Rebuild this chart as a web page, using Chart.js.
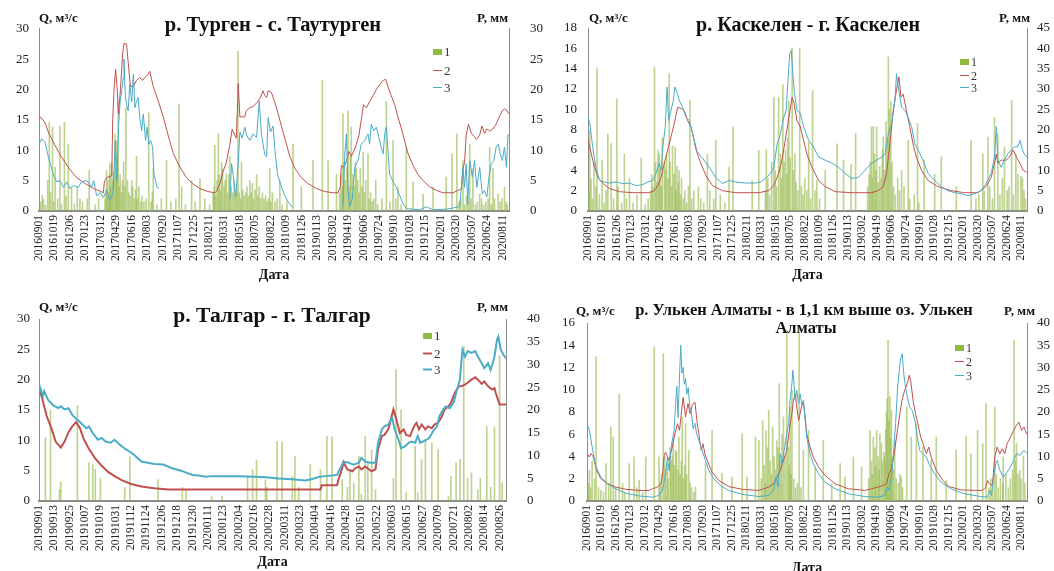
<!DOCTYPE html>
<html><head><meta charset="utf-8">
<script src="https://cdn.jsdelivr.net/npm/chart.js@4.4.1/dist/chart.umd.min.js"></script>
<style>
html,body{margin:0;padding:0;background:#fff;overflow:hidden}
#wrap{position:relative;width:1054px;height:571px;overflow:hidden;background:#fff}
canvas{position:absolute}
</style></head><body><div id="wrap">
<canvas id="c1" width="560" height="290" style="left:0px;top:0px"></canvas>
<canvas id="c2" width="514" height="290" style="left:540px;top:0px"></canvas>
<canvas id="c3" width="560" height="281" style="left:0px;top:290px"></canvas>
<canvas id="c4" width="514" height="290" style="left:540px;top:290px"></canvas>
</div>
<script>
// ---------- tick labels ----------
const longTicks = ['20160901','20161019','20161206','20170123','20170312','20170429','20170616','20170803','20170920','20171107','20171225','20180211','20180331','20180518','20180705','20180822','20181009','20181126','20190113','20190302','20190419','20190606','20190724','20190910','20191028','20191215','20200201','20200320','20200507','20200624','20200811'];
const talgarTicks = ['20190901','20190913','20190925','20191007','20191019','20191031','20191112','20191124','20191206','20191218','20191230','20200111','20200123','20200204','20200216','20200228','20200311','20200323','20200404','20200416','20200428','20200510','20200522','20200603','20200615','20200627','20200709','20200721','20200802','20200814','20200826'];

const titles = ['р. Турген - с. Таутурген','р. Каскелен - г. Каскелен','р. Талгар - г. Талгар','р. Улькен Алматы - в 1,1 км выше оз. Улькен','Алматы'];
const unitLabels = ['Q, м³/с','P, мм'];
const legendLabels = ['1','2','3'];
const xTitle = 'Дата';

// ---------- data: [day since first tick, value] ----------
// Турген (Q red = 2, Q cyan = 3, P bars = 1)
const turgenQ2 = [[0,15.5],[8,15.3],[19,14.5],[29,13],[48,11],[65,9.3],[81,8],[96,6.8],[117,5.5],[144,4.5],[169,3.7],[192,3.2],[200,3.0],[203,4.8],[210,5.5],[226,5.8],[229,15],[233,20],[238,23.3],[243,20],[247,16],[253,20],[260,26],[264,27.6],[272,27.5],[277,24.5],[284,20.5],[293,20.5],[303,21.5],[313,22],[322,21.5],[329,22],[339,22.5],[344,23],[355,20.5],[370,18.2],[386,15.5],[401,12.5],[417,9.5],[438,7.2],[458,5.5],[479,4.4],[500,3.7],[525,3.2],[546,3.0],[551,3.2],[562,4.5],[572,6.5],[582,8],[593,11],[600,13.5],[608,12.5],[613,12],[619,21],[624,15.5],[639,15.5],[644,16.5],[655,17],[665,17.2],[676,17.8],[686,18.5],[696,19.8],[701,19],[707,18.7],[712,19.8],[722,19.5],[732,18],[743,16],[753,14],[766,11.5],[779,9],[795,7],[815,5.5],[836,4.5],[862,3.7],[888,3.2],[913,3.0],[929,3.0],[936,4.0],[939,7.5],[947,7.2],[955,8.2],[963,9.8],[970,9.0],[979,10],[986,11],[994,12.5],[1001,15],[1008,17.5],[1017,17],[1027,18],[1038,19],[1048,20],[1058,20.8],[1069,21.5],[1077,21.7],[1084,20.5],[1094,19],[1105,17.5],[1115,15.5],[1126,13.5],[1136,11.5],[1146,9.5],[1162,7.5],[1177,6],[1193,5],[1213,4],[1234,3.4],[1255,3.0],[1286,3.0],[1301,3.4],[1312,3.6],[1317,7],[1322,8],[1327,12.5],[1334,14.3],[1343,12.8],[1353,12.2],[1359,11.8],[1369,12.5],[1376,14],[1384,12.8],[1391,13.5],[1400,13.2],[1410,13.5],[1420,14.3],[1430,15.5],[1439,16.5],[1446,16.8],[1453,16.6],[1459,16]];
const turgenQ3 = [[0,11],[8,11.9],[19,11.3],[29,8.9],[39,7],[44,6.1],[55,4.8],[65,5],[76,3.9],[86,4.8],[96,3.7],[107,4.2],[122,3.9],[132,4.8],[143,5],[153,4.8],[163,3.9],[170,5],[179,2.5],[190,3],[200,2.2],[210,3.4],[220,1.7],[230,3],[237,11.6],[242,5],[247,13.8],[252,18],[257,19.8],[262,22],[264,25],[268,19],[272,17.6],[277,16.5],[282,20.9],[288,18],[293,22.5],[298,17],[303,18.1],[308,18.7],[313,15.4],[319,13.2],[324,16],[331,11.6],[336,13.8],[341,11],[347,11.6],[353,10.5],[357,6.1],[362,5],[367,3.9],[373,3.7],[376,null],
[593,2],[598,7.8],[603,6],[611,2.3],[619,8],[624,13],[631,12],[639,13.8],[645,12.5],[655,11.6],[665,12.7],[676,12.1],[684,18.1],[691,12.7],[696,11],[701,9.4],[707,8.9],[712,15.4],[719,13],[727,14],[733,10],[741,6],[753,4],[763,2.6],[774,1.5],[784,0.8],[789,0.5],[792,null],
[944,0.7],[950,9.4],[955,12.7],[960,3.4],[965,0.7],[973,2],[981,7.2],[991,8.3],[1001,11],[1012,11.6],[1022,12.7],[1027,11],[1032,14.3],[1040,13.2],[1048,13.8],[1056,12.1],[1063,10.5],[1069,9.4],[1074,12.7],[1079,13.8],[1082,11.6],[1089,6.1],[1100,4.8],[1110,3.9],[1120,2.6],[1131,1.2],[1141,0.4],[1182,0.2],[1203,0.7],[1224,0.2],[1265,0.3],[1307,0.7],[1317,7.2],[1322,3.9],[1327,7.8],[1332,1.2],[1338,8.3],[1346,5.6],[1353,8.3],[1360,3.9],[1369,7.2],[1377,2.8],[1384,3.4],[1391,2.3],[1398,5.6],[1405,7.8],[1413,8.3],[1420,10.5],[1427,11],[1433,9.4],[1439,8.3],[1446,10.5],[1452,7.2],[1457,12.7]];
const turgenP = [[10,2.6],[27,5],[32,14.6],[42,13.8],[50,7.2],[65,14],[79,14.6],[91,11],[101,3.9],[119,4],[127,2],[156,6.7],[210,6.7],[220,7.8],[236,12.7],[241,11.6],[246,18],[270,17],[288,5],[303,9],[341,16.2],[355,7],[396,8.3],[435,17.6],[443,4],[474,5],[500,5.3],[546,10.8],[557,12.7],[567,8],[582,6.1],[593,9],[618,26.3],[629,8],[655,5],[676,6],[717,7],[748,5],[789,11],[815,4],[851,8.3],[880,21.5],[898,8.3],[924,6],[944,16],[960,16.5],[970,13.8],[986,7],[1007,9.7],[1022,9.4],[1046,5],[1079,18],[1100,11.6],[1115,4],[1141,10.5],[1162,4.8],[1193,2.8],[1224,4],[1265,5.6],[1283,9.4],[1298,12.7],[1317,8.3],[1338,11],[1348,7],[1369,2.8],[1400,10.5],[1410,7],[1426,2.8],[1446,3.9],
[5,1.5],[14,2],[20,1],[36,3],[45,1.5],[58,2],[70,1],[84,2.5],[110,1.2],[135,1.5],[150,2],[175,1],[185,2],
[205,2],[208,3.5],[213,5],[216,3],[219,6],[223,4],[226,8],[229,5],[232,6.5],[239,9],[244,7],[249,4],[252,6],[256,3],[259,5],[263,8],[266,4],[275,5],[279,3],[283,2.5],[291,4],[296,2],[300,3.5],[306,2],[310,4],[316,1.5],[320,2.5],[326,1.5],[333,2],[348,1.5],[352,3],
[366,1],[380,2],[410,1.5],[425,2],[455,1],[485,1.5],[515,2],[530,1],
[541,3],[544,4],[549,2.5],[553,5],[560,6],[563,3.5],[570,7],[575,4],[578,5],[586,3],[590,6],[597,4],[602,3],[606,5],[610,2.5],[614,4],[622,3],[626,2],[633,3.5],[637,2.5],[642,3],[646,4],[650,2.5],[659,3],[663,4.5],[667,2],[671,3.5],[680,2.5],[684,4],[689,2],[694,3],[699,2],[704,2.5],[709,1.5],[713,2],[720,1.5],[725,3],[733,1.5],[740,2],[755,1],[770,1.5],
[934,3],[938,6],[942,4],[947,8],[951,5],[956,7],[964,4],[967,9],[975,6],[979,4],[983,8],[990,5],[994,3],[998,7],[1003,4],[1011,3],[1015,5],[1026,2],[1030,3],[1035,1.5],[1040,2],[1052,1],[1065,2],[1090,1.5],[1108,2],[1125,1],
[1305,1.5],[1310,2],[1322,1],[1328,2.5],[1333,1.5],[1343,2],[1356,1],[1362,1.5],[1375,2],[1381,1],[1388,1.5],[1395,2],[1405,1],[1415,2],[1432,1.5],[1438,2],[1451,1.5],[1455,1]];

// Каскелен
const kaskelenQ2 = [[0,7.0],[11,5.6],[22,4.3],[33,3.3],[50,2.7],[72,2.2],[105,1.9],[149,1.8],[204,1.8],[221,2.0],[232,2.5],[243,3.3],[254,4.7],[265,6.0],[276,7.3],[287,8.6],[298,10.2],[309,10.1],[320,9.9],[331,8.9],[342,8.3],[353,7.0],[364,5.6],[375,4.7],[392,3.5],[414,2.5],[447,2.0],[491,1.8],[568,1.8],[601,2.0],[618,2.5],[634,3.7],[645,5.0],[656,6.95],[668,9.2],[679,11.2],[685,10.6],[695,8.9],[706,8.3],[717,6.95],[728,5.6],[745,4.3],[767,3.0],[789,2.4],[822,1.9],[877,1.8],[943,1.8],[965,2.0],[982,2.4],[993,3.7],[1004,6.6],[1015,9.9],[1026,11.9],[1034,13.2],[1041,11.2],[1048,11.5],[1059,9.9],[1070,8.3],[1081,6.6],[1092,5.3],[1109,4.0],[1131,3.0],[1164,2.4],[1208,2.0],[1252,1.8],[1297,1.8],[1324,2.4],[1341,3.3],[1352,4.7],[1358,5.6],[1363,4.7],[1374,5.0],[1391,5.0],[1401,5.3],[1414,6.0],[1425,5.3],[1436,4.7],[1448,4.0],[1459,3.8]];
const kaskelenQ3 = [[0,9.2],[6,8.6],[17,6.0],[28,4.0],[39,3.0],[55,2.85],[72,2.75],[94,2.85],[116,2.7],[138,2.75],[160,2.5],[182,2.6],[199,2.85],[215,3.0],[226,3.7],[237,4.7],[243,4.0],[250,6.6],[257,8.3],[263,12.2],[268,8.9],[276,9.9],[284,10.9],[289,12.2],[298,11.5],[303,10.9],[314,10.2],[326,9.2],[337,8.9],[348,7.6],[359,6.0],[370,5.6],[386,5.0],[403,4.3],[425,3.3],[447,2.7],[469,3.0],[491,2.85],[524,2.75],[557,2.75],[574,2.85],[590,3.2],[607,3.7],[618,4.3],[629,6.6],[640,7.6],[651,9.2],[659,9.9],[665,12.9],[671,15.5],[676,15.8],[682,13.2],[687,11.5],[695,9.9],[706,9.6],[717,8.3],[734,6.95],[750,6.3],[767,5.3],[789,5.0],[811,4.7],[833,4.3],[855,3.7],[877,3.2],[899,3.3],[921,4.0],[943,4.7],[960,5.0],[977,5.3],[988,5.6],[999,7.6],[1010,8.6],[1021,10.9],[1026,13.5],[1032,12.2],[1043,10.2],[1054,9.9],[1065,9.2],[1076,8.3],[1087,6.6],[1098,6.0],[1114,5.0],[1131,3.7],[1153,3.0],[1175,2.4],[1197,2.0],[1219,1.8],[1241,1.7],[1263,1.5],[1285,1.7],[1307,2.0],[1324,2.7],[1341,3.7],[1352,5.3],[1358,8.3],[1363,5.0],[1374,4.3],[1385,5.0],[1396,5.6],[1407,6.0],[1418,6.3],[1429,6.3],[1437,6.95],[1445,6.0],[1451,5.6],[1459,5.3]];
const kaskelenP = [[6,19.8],[30,35],[47,12.5],[66,19],[77,16.6],[96,27.6],[121,14],[138,8],[177,13],[221,35.4],[237,14],[254,12],[270,33.8],[290,15.7],[303,10],[339,27.2],[367,6],[397,14],[425,17.4],[469,10.8],[482,20.7],[546,7.5],[568,14.9],[593,15],[618,28],[634,28],[648,31],[668,27],[679,40],[704,40],[734,17],[747,29.7],[761,7.5],[789,10],[828,16.5],[850,12.5],[875,11.5],[890,19],[943,20.7],[949,20.7],[960,20.7],[982,18.2],[999,37.9],[1007,27],[1043,10],[1065,17.4],[1096,21.5],[1118,12.5],[1153,9],[1175,13.3],[1225,6],[1274,17.4],[1313,14],[1330,18.2],[1352,23],[1363,19],[1385,15.7],[1409,27.2],[1423,14],[1440,8.5],
[3,5],[10,8],[15,3],[20,12],[26,6],[38,4],[54,2],[60,5],[85,3],[100,6],[112,2],[128,3],[150,2],[163,4],[190,1.5],[200,3],
[208,5],[212,9],[216,6],[225,12],[229,7],[233,15],[240,10],[244,6],[247,18],[258,10],[261,14],[266,8],[273,12],[278,6],[281,16],[286,9],[293,5],[296,11],[300,7],[307,4],[311,8],[317,3],[322,5],[328,2],[334,6],[345,3],[352,5],[375,3],[385,2],[405,5],[418,3],[440,4],[455,2],
[590,5],[598,8],[604,4],[611,12],[623,10],[627,6],[640,14],[644,8],[652,12],[657,15],[661,9],[664,18],[672,13],[683,10],[688,14],[692,7],[698,5],[710,6],[715,4],[721,8],[728,5],[740,3],[755,5],[770,3],
[930,6],[935,9],[939,12],[946,8],[953,14],[957,10],[965,7],[970,11],[975,8],[979,15],[986,10],[991,22],[995,18],[1002,25],[1011,12],[1016,6],[1022,4],[1030,8],[1036,5],[1051,6],[1070,3],[1085,4],[1100,2],
[1290,3],[1300,4],[1318,5],[1336,6],[1345,3],[1370,4],[1378,8],[1394,5],[1400,6],[1415,4],[1430,9],[1445,8],[1450,5],[1455,3]];

// Талгар (one year, day 0 = 20190901)
const talgarQ2 = [[0,18.4],[2,17.3],[6,14],[10,11.8],[13,9.8],[17,8.8],[20,9.8],[23,11.3],[26,12.3],[29,13],[32,12],[35,10.2],[39,8.6],[44,7],[49,5.8],[54,4.8],[59,4.1],[65,3.4],[72,2.8],[80,2.4],[90,2.1],[101,1.9],[150,1.9],[220,1.9],[221,2.6],[233,2.6],[234,3.5],[237,5.4],[238,6.4],[241,5.2],[245,4.9],[247,5.4],[250,5.7],[252,5.2],[255,5.7],[258,5.2],[260,4.9],[263,5.2],[265,8.5],[268,10.7],[270,10.9],[273,11.8],[275,13.4],[277,15.1],[280,12.9],[282,11.2],[285,11.8],[287,10.9],[290,10.7],[293,12.3],[295,12.9],[297,11.8],[299,12.6],[302,11.8],[304,12.3],[307,12.0],[309,12.6],[312,12.9],[315,14.0],[317,15.1],[320,15.6],[322,16.2],[325,17.8],[328,18.9],[330,18.9],[333,19.2],[335,19.5],[338,20.0],[341,20.4],[343,20.0],[346,19.3],[348,19.7],[351,18.9],[354,18.4],[356,18.6],[357,17.8],[360,15.9],[365,15.9]];
const talgarQ3 = [[0,17.8],[1,18.6],[3,17.3],[4,18.1],[7,16.7],[11,15.8],[15,15.3],[17,15.6],[20,15.1],[23,15.3],[26,14.2],[30,13.4],[34,12.6],[37,12.0],[39,12.3],[42,11.2],[46,10.1],[49,10.4],[52,9.8],[56,9.6],[59,10.1],[63,9.3],[68,8.5],[72,8.0],[76,7.3],[80,6.5],[85,6.3],[90,6.1],[97,6.0],[104,5.4],[111,5.0],[116,4.6],[120,4.3],[125,4.2],[130,4.0],[135,4.1],[146,4.1],[156,4.1],[167,4.0],[177,3.9],[187,3.7],[198,3.6],[208,3.4],[213,3.6],[219,4.0],[224,4.1],[229,4.2],[233,4.3],[235,5.2],[238,6.5],[242,6.3],[246,6.0],[250,6.3],[252,7.1],[255,6.5],[259,6.3],[263,6.3],[265,9.6],[268,11.8],[270,12.3],[273,12.6],[276,13.7],[278,11.8],[281,10.1],[283,8.7],[286,9.0],[289,9.6],[291,9.8],[294,9.6],[296,10.7],[298,9.6],[300,9.8],[303,10.1],[305,10.4],[308,11.5],[311,12.3],[313,14.0],[316,15.1],[318,15.6],[321,15.3],[324,16.2],[326,17.8],[329,20.0],[330,22.7],[331,24.9],[333,23.8],[335,24.7],[338,24.4],[341,24.7],[343,23.8],[346,22.7],[348,21.9],[351,22.7],[353,21.6],[356,23.8],[358,26.6],[359,27.1],[361,24.9],[363,24.1],[365,23.5]];
const talgarP = [[5,13.9],[9,20],[16,2.5],[17,4.2],[30,21],[39,8.4],[42,8],[44,7],[48,5],[67,3],[71,9.7],[93,4.7],[112,3],[115,2.5],[135,1],[143,1],[163,5.5],[167,6.9],[170,9],[177,4.7],[178,3],[186,13.1],[190,13],[198,5.4],[200,9.8],[203,3],[212,8],[220,6.9],[225,14.2],[229,14.1],[237,4.7],[241,3],[243,6.9],[246,4],[250,9.8],[252,1.5],[255,14.2],[257,8.4],[260,11.3],[263,2.5],[277,5],[279,28.9],[283,20],[287,1.8],[294,12],[296,1.8],[299,9.1],[302,13.5],[307,12.7],[312,11.3],[320,1],[322,5.4],[326,8.4],[329,9.1],[332,34],[335,5],[338,6.2],[343,2.5],[345,5],[350,16.4],[353,3],[356,16.3],[360,32],[362,4]];

// Улькен Алматы
const ulkenQ2 = [[0,4.25],[8,3.95],[13,4.25],[19,4.1],[24,3.65],[32,2.75],[46,2.0],[68,1.55],[96,1.25],[129,1.05],[173,0.95],[206,0.95],[217,1.1],[234,1.25],[245,1.55],[250,2.15],[256,4.1],[261,4.4],[272,3.65],[283,4.85],[292,6.05],[300,6.95],[307,6.35],[314,8.15],[319,9.3],[327,7.55],[335,8.75],[342,7.85],[349,8.6],[358,8.9],[366,6.95],[371,6.05],[379,4.55],[385,5.15],[391,4.25],[399,3.65],[415,2.6],[437,1.85],[470,1.3],[515,1.05],[570,0.95],[586,1.1],[603,1.25],[619,1.55],[630,2.15],[641,2.75],[652,3.65],[663,4.55],[674,6.95],[680,7.85],[685,9.05],[691,9.65],[696,8.45],[702,7.25],[707,7.85],[713,8.6],[718,8.9],[724,7.55],[729,6.05],[740,4.85],[751,3.95],[768,3.05],[790,2.3],[823,1.55],[867,1.1],[922,0.95],[944,1.1],[966,1.25],[983,1.4],[994,1.55],[1002,2.45],[1010,2.9],[1021,4.55],[1030,6.35],[1038,7.85],[1045,9.05],[1054,9.95],[1063,10.55],[1069,11.3],[1074,10.85],[1082,9.05],[1090,7.85],[1098,6.95],[1107,5.75],[1115,5.15],[1126,4.25],[1134,4.85],[1142,3.95],[1159,2.75],[1181,1.85],[1201,1.3],[1241,1.0],[1296,0.95],[1312,0.95],[1323,1.25],[1329,1.85],[1335,1.55],[1345,1.4],[1353,3.95],[1361,4.85],[1370,4.25],[1378,4.7],[1386,4.25],[1394,5.15],[1405,5.75],[1416,6.35],[1425,6.8],[1433,7.1],[1442,6.35],[1450,6.65],[1459,6.0]];
const ulkenQ3 = [[0,6.95],[8,6.35],[19,4.55],[30,3.05],[46,2.15],[68,1.55],[96,1.1],[129,0.7],[173,0.45],[217,0.35],[239,0.5],[250,0.95],[259,2.15],[267,3.95],[272,2.75],[281,5.15],[289,6.35],[294,8.75],[298,10.3],[302,7.5],[306,10.5],[311,14.0],[315,11.5],[319,12.0],[323,10.5],[327,11.0],[331,9.6],[336,10.2],[341,8.5],[346,8.0],[352,6.5],[358,7.0],[364,6.0],[371,5.45],[382,4.55],[393,3.65],[404,2.75],[421,2.0],[443,1.4],[470,0.95],[515,0.6],[570,0.4],[603,0.5],[619,0.95],[627,2.15],[634,1.25],[641,4.25],[647,3.35],[656,4.85],[663,6.05],[669,6.95],[674,9.05],[680,10.55],[683,11.75],[686,10.85],[691,9.05],[696,9.95],[702,8.75],[707,9.65],[713,8.6],[718,9.05],[724,7.25],[729,5.75],[740,4.25],[751,3.35],[768,2.45],[790,1.7],[823,1.1],[867,0.65],[922,0.4],[966,0.35],[988,0.5],[997,1.25],[1002,0.95],[1010,2.15],[1016,3.95],[1024,6.95],[1030,9.95],[1035,11.45],[1040,12.65],[1046,13.25],[1051,11.45],[1057,10.25],[1063,9.35],[1071,8.45],[1079,8.15],[1088,7.25],[1096,5.75],[1104,4.55],[1115,4.25],[1126,3.95],[1137,3.2],[1153,2.45],[1175,1.7],[1207,1.1],[1252,0.65],[1307,0.4],[1329,0.35],[1337,0.95],[1342,0.5],[1348,1.85],[1356,3.35],[1361,3.65],[1370,2.75],[1381,2.15],[1394,2.6],[1405,3.05],[1416,3.65],[1425,4.25],[1436,4.1],[1450,4.55],[1459,4.3]];
const ulkenP = [[8,6.9],[30,32.4],[46,2.4],[63,8.4],[79,16.6],[87,14.4],[107,24],[118,3.9],[140,8.4],[156,9.9],[173,4.7],[195,9.9],[223,34.6],[239,9.9],[253,33.1],[267,8.4],[283,9.9],[294,11.4],[305,14.4],[316,18.9],[327,17.4],[338,11.4],[360,3.2],[393,8.4],[415,15.9],[448,6.2],[481,5.4],[515,15.1],[531,5.4],[559,14.4],[570,13.6],[583,18.1],[594,15.9],[603,20.4],[616,16.6],[630,13.6],[638,26.4],[652,18.9],[663,38.4],[674,21.1],[680,24.9],[704,39.1],[718,11.4],[735,15.9],[757,7.6],[784,13.6],[812,3.9],[840,8.4],[856,5.4],[884,9.9],[911,7.6],[939,15.9],[950,14.4],[961,15.9],[972,15.1],[988,9.9],[999,36.1],[1005,23.4],[1010,20.4],[1021,13.6],[1043,5.4],[1061,21.1],[1076,14.4],[1093,17.4],[1115,12.2],[1142,9.2],[1159,14.4],[1192,4.6],[1225,11.4],[1258,14.4],[1274,10.6],[1296,15.9],[1313,12.9],[1324,21.9],[1353,21.1],[1381,9.9],[1417,36.1],[1425,12.9],[1436,6.9],
[4,4],[12,3],[17,9],[25,5],[38,3],[55,2],[72,4],[95,3],[125,2],[165,3],[185,2],
[242,4],[247,6],[258,10],[262,7],[270,5],[276,12],[279,9],[286,14],[290,8],[297,11],[302,7],[309,6],[313,9],[320,5],[324,8],[331,6],[342,4],[347,3],[355,2],
[578,5],[588,8],[592,4],[599,12],[608,9],[612,6],[621,10],[625,7],[634,12],[643,9],[647,15],[657,10],[668,12],[671,8],[677,6],[686,5],[692,3],[698,4],[710,3],
[935,5],[944,9],[947,6],[955,12],[958,8],[966,10],[969,7],[977,13],[980,9],[985,11],[991,16],[994,20],[996,23],[1002,18],[1007,14],[1013,10],[1016,7],[1026,5],[1033,4],[1038,6],[1047,3],
[1333,3],[1340,5],[1346,4],[1358,6],[1365,3],[1372,5],[1380,4],[1390,6],[1398,3],[1405,5],[1412,7],[1421,9],[1430,6],[1440,5],[1448,10],[1453,4]];

// ---------- styles / layout ----------
const FONT = "'Liberation Serif','Times New Roman',serif";
Chart.defaults.font.family = FONT;
Chart.defaults.color = '#222';
const RED = '#c0504d', CYAN = '#4bacc6', BAR = 'rgba(150,184,76,0.62)', LEG_GREEN = '#8dba3f', AXIS = '#8c8c8c';

const panels = [
  {id:'c1', w:560, h:290, top:28, yw:39, y1w:51, bottom:211, xMax:1460, step:48, labels:longTicks,
   qMax:30, qStep:5, pMax:30, pStep:5, lw:1, yPad:10, y1Pad:21, datePad:6,
   q2:turgenQ2, q3:turgenQ3, p:turgenP,
   titles:[{t:0, x:273, y:31, size:20.5}], qx:39, px:508, uy:22, legend:{x:433, y:52, dy:17.5, fs:13}},
  {id:'c2', w:514, h:290, top:28, yw:48, y1w:27, bottom:211, xMax:1460, step:48, labels:longTicks,
   qMax:18, qStep:2, pMax:45, pStep:5, lw:1, yPad:11, y1Pad:10, datePad:6,
   q2:kaskelenQ2, q3:kaskelenQ3, p:kaskelenP,
   titles:[{t:1, x:268, y:31, size:20}], qx:49, px:490, uy:22, legend:{x:420, y:62, dy:12.5, fs:12}},
  {id:'c3', w:560, h:281, top:29, yw:39, y1w:54, bottom:211, xMax:365, step:12, labels:talgarTicks,
   qMax:30, qStep:5, pMax:40, pStep:5, lw:2, yPad:9, y1Pad:21, datePad:0,
   q2:talgarQ2, q3:talgarQ3, p:talgarP,
   titles:[{t:2, x:272, y:32, size:21.5}], qx:39, px:508, uy:21, legend:{x:423, y:46, dy:16.5, fs:13}},
  {id:'c4', w:514, h:290, top:33, yw:47, y1w:27, bottom:211, xMax:1460, step:48, labels:longTicks,
   qMax:16, qStep:2, pMax:40, pStep:5, lw:1, yPad:12, y1Pad:10, datePad:3,
   q2:ulkenQ2, q3:ulkenQ3, p:ulkenP,
   titles:[{t:3, x:264, y:25, size:16.5},{t:4, x:266, y:43, size:16.5}], qx:36, px:495, uy:25, legend:{x:415, y:58, dy:13.3, fs:12}}
];

function pts(arr){ return arr.map(([x, y]) => ({x, y})); }

function makeOverlay(p){
  return {id:'overlay_' + p.id, afterDraw(chart){
    const ctx = chart.ctx; ctx.save();
    ctx.fillStyle = '#111'; ctx.textBaseline = 'alphabetic'; ctx.textAlign = 'center';
    p.titles.forEach(t => { ctx.font = `bold ${t.size}px ${FONT}`; ctx.fillText(titles[t.t], t.x, t.y); });
    ctx.font = `bold 13px ${FONT}`;
    ctx.textAlign = 'left'; ctx.fillText(unitLabels[0], p.qx, p.uy);
    ctx.textAlign = 'right'; ctx.fillText(unitLabels[1], p.px, p.uy);
    const L = p.legend;
    ctx.font = `${L.fs}px ${FONT}`; ctx.textBaseline = 'middle'; ctx.textAlign = 'left';
    ctx.fillStyle = LEG_GREEN; ctx.fillRect(L.x, L.y - 3, 9, 6);
    ctx.fillStyle = '#333'; ctx.fillText(legendLabels[0], L.x + 11, L.y + 1);
    [[RED, legendLabels[1]], [CYAN, legendLabels[2]]].forEach(([c, t], i) => {
      const y = Math.round(L.y + L.dy * (i + 1)) + 0.5;
      ctx.strokeStyle = c; ctx.lineWidth = p.lw;
      ctx.beginPath(); ctx.moveTo(L.x, y); ctx.lineTo(L.x + 9, y); ctx.stroke();
      ctx.fillStyle = '#333'; ctx.fillText(t, L.x + 11, y + 1);
    });
    ctx.restore();
  }};
}

panels.forEach(p => {
  new Chart(document.getElementById(p.id), {
    type: 'bar',
    data: {datasets: [
      {type:'line', label:legendLabels[2], data:pts(p.q3), yAxisID:'y', borderColor:CYAN, borderWidth:p.lw, pointRadius:0, tension:0, spanGaps:false, order:0},
      {type:'line', label:legendLabels[1], data:pts(p.q2), yAxisID:'y', borderColor:RED, borderWidth:p.lw, pointRadius:0, tension:0, spanGaps:false, order:1},
      {type:'bar', label:legendLabels[0], data:pts(p.p), yAxisID:'y1', backgroundColor:BAR, borderWidth:0, barThickness:1, order:2}
    ]},
    options: {
      responsive:false, animation:false, devicePixelRatio:1,
      layout:{padding:{top:p.top, left:0, right:0, bottom:0}},
      plugins:{legend:{display:false}, tooltip:{enabled:false}, title:{display:false}},
      scales:{
        x:{type:'linear', min:0, max:p.xMax, offset:false,
           grid:{display:false, drawTicks:false}, border:{display:true, color:AXIS, width:2},
           afterBuildTicks: s => { s.ticks = p.labels.map((_, i) => ({value: i * p.step})); },
           afterFit: s => { s.height = p.h - p.bottom; },
           ticks:{autoSkip:false, minRotation:90, maxRotation:90, padding:4, color:'#222', font:{size:11.5}, callback:(v, i) => p.labels[i]},
           title:{display:true, text:xTitle, color:'#111', font:{size:14, weight:'bold'}, padding:{top:0, bottom:p.datePad}}},
        y:{position:'left', min:0, max:p.qMax,
           grid:{drawOnChartArea:false, drawTicks:false}, border:{display:true, color:AXIS, width:1},
           ticks:{stepSize:p.qStep, padding:p.yPad, color:'#222', font:{size:13}},
           afterFit: s => { s.width = p.yw; }},
        y1:{position:'right', min:0, max:p.pMax,
           grid:{drawOnChartArea:false, drawTicks:false}, border:{display:true, color:AXIS, width:1},
           ticks:{stepSize:p.pStep, padding:p.y1Pad, color:'#222', font:{size:13}},
           afterFit: s => { s.width = p.y1w; }}
      }
    },
    plugins:[makeOverlay(p)]
  });
});
</script></body></html>
